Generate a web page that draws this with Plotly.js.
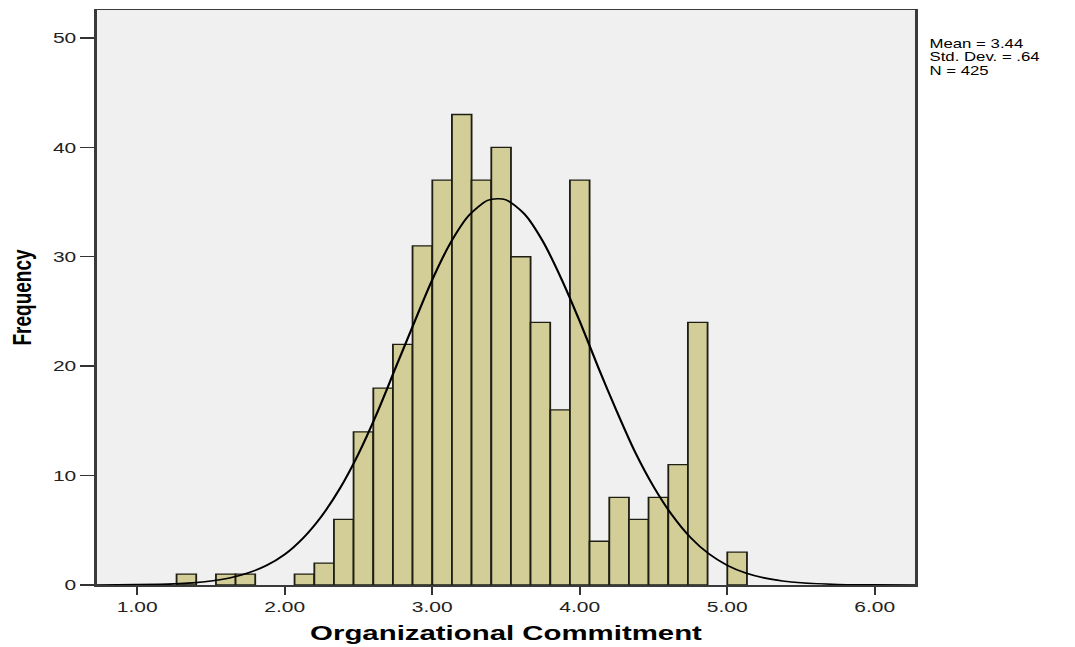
<!DOCTYPE html>
<html>
<head>
<meta charset="utf-8">
<script src="https://cdn.plot.ly/plotly-3.0.1.min.js"></script>
<style>
  html, body { margin: 0; padding: 0; background: #ffffff; overflow: hidden; }
  #wrap { width: 1075px; height: 647px; overflow: hidden; }
  #chart { width: 768px; height: 647px; transform: scaleX(1.39974); transform-origin: 0 0; }
</style>
</head>
<body>
<div id="wrap"><div id="chart"></div></div>
<script>
// Histogram bins (centres) and frequencies
const binCenters = [1.333, 1.600, 1.733, 2.133, 2.267, 2.400, 2.533, 2.667, 2.800, 2.933,
                    3.067, 3.200, 3.333, 3.467, 3.600, 3.733, 3.867, 4.000, 4.133, 4.267,
                    4.400, 4.533, 4.667, 4.800, 5.067];
const frequencies = [1, 1, 1, 1, 2, 6, 14, 18, 22, 31,
                     37, 43, 37, 40, 30, 24, 16, 37, 4, 8,
                     6, 8, 11, 24, 3];

// Normal curve points
const curveX = [0.72, 1.00, 1.25, 1.375, 1.50, 1.625, 1.75, 1.875, 2.00, 2.125, 2.25, 2.375,
                2.50, 2.625, 2.75, 2.875, 3.00, 3.125, 3.25, 3.375, 3.44, 3.50, 3.625, 3.75,
                3.875, 4.00, 4.125, 4.25, 4.375, 4.50, 4.625, 4.75, 4.875, 5.00, 5.125, 5.25,
                5.375, 5.50, 5.75, 6.00, 6.28];
const curveY = [0.0, 0.03, 0.1, 0.19, 0.36, 0.64, 1.1, 1.78, 2.8, 4.3, 6.3, 8.85,
                12.0, 15.7, 19.8, 23.9, 27.9, 31.3, 33.8, 35.15, 35.3, 35.2, 33.9, 31.4,
                28.0, 24.1, 19.9, 15.9, 12.15, 9.0, 6.4, 4.35, 2.85, 1.8, 1.1, 0.65,
                0.37, 0.2, 0.05, 0.01, 0.0];

// Axis ticks
const xTickVals = [1, 2, 3, 4, 5, 6];
const xTickText = ['1.00', '2.00', '3.00', '4.00', '5.00', '6.00'];
const yTickVals = [0, 10, 20, 30, 40, 50];

// Summary statistics
const statLines = ['Mean = 3.44', 'Std. Dev. = .64', 'N = 425'];

const FONT = 'Liberation Sans, Arial, sans-serif';

const traces = [
  {
    type: 'bar',
    x: binCenters,
    y: frequencies,
    width: 2 / 15,
    marker: { color: '#D3CE97', line: { color: '#1e1e14', width: 1.3 } },
    hoverinfo: 'x+y',
    showlegend: false
  },
  {
    type: 'scatter',
    mode: 'lines',
    x: curveX,
    y: curveY,
    line: { color: '#000000', width: 1.6, shape: 'spline', smoothing: 0.8 },
    hoverinfo: 'skip',
    showlegend: false
  }
];

const statY = [44, 57.5, 71];
const annotations = statLines.map((t, i) => ({
  text: t,
  xref: 'paper', yref: 'paper',
  x: 1.0135, y: (585 - statY[i]) / 575,
  xanchor: 'left', yanchor: 'middle',
  showarrow: false,
  font: { family: FONT, size: 12, color: '#000000' }
}));

const layout = {
  width: 768,
  height: 647,
  margin: { l: 69, r: 114, t: 10, b: 62, pad: 0 },
  paper_bgcolor: '#ffffff',
  plot_bgcolor: '#F0F0F0',
  bargap: 0,
  xaxis: {
    range: [0.724, 6.276],
    tickvals: xTickVals,
    ticktext: xTickText,
    ticks: 'outside',
    ticklen: 8,
    tickwidth: 1.5,
    tickcolor: '#333333',
    showgrid: false,
    zeroline: false,
    showline: true,
    mirror: true,
    linecolor: '#3a3a3a',
    linewidth: 1.5,
    tickfont: { family: FONT, size: 15, color: '#222222' },
    title: { text: 'Organizational Commitment', standoff: 11,
             font: { family: FONT, size: 21, color: '#000000', weight: 'bold' } }
  },
  yaxis: {
    range: [0, 52.55],
    tickvals: yTickVals,
    ticks: 'outside',
    ticklen: 10,
    tickwidth: 1.5,
    tickcolor: '#333333',
    showgrid: false,
    zeroline: false,
    showline: true,
    mirror: true,
    linecolor: '#3a3a3a',
    linewidth: 1.5,
    tickfont: { family: FONT, size: 15, color: '#222222' },
    title: { text: 'Frequency', standoff: 10,
             font: { family: FONT, size: 19, color: '#000000', weight: 'bold' } }
  },
  annotations: annotations,
  showlegend: false
};

Plotly.newPlot('chart', traces, layout, { displayModeBar: false, staticPlot: true });
</script>
</body>
</html>
